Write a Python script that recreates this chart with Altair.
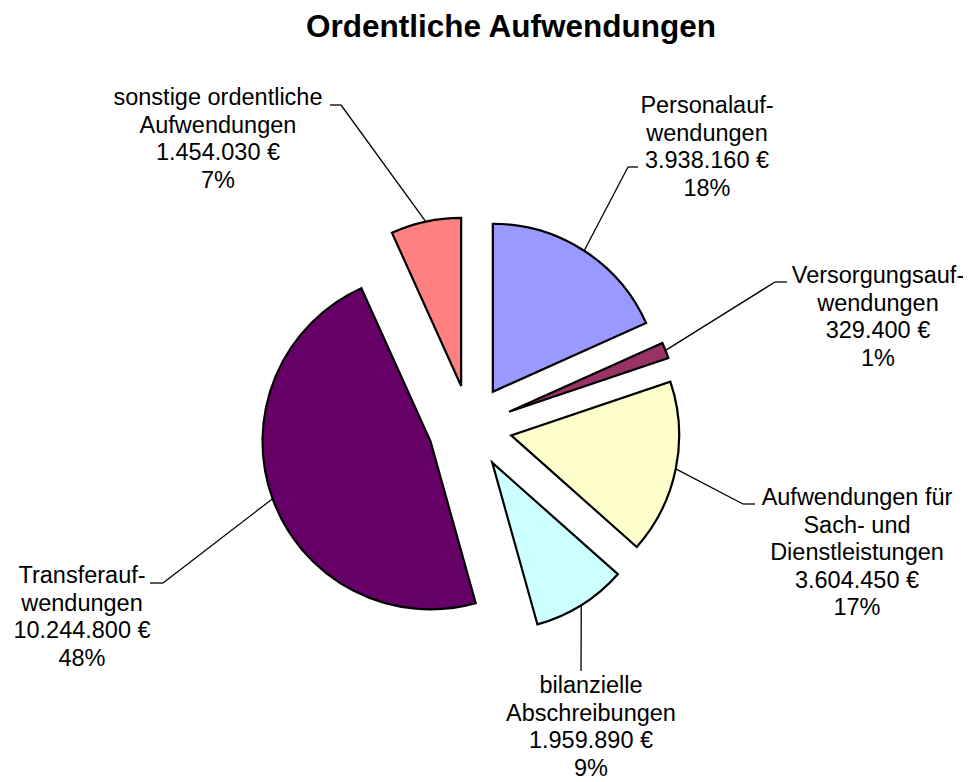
import altair as alt
import pandas as pd

# ---- data (clockwise from 12 o'clock) ----
names = [
    "Personalauf-\nwendungen",
    "Versorgungsauf-\nwendungen",
    "Aufwendungen für\nSach- und\nDienstleistungen",
    "bilanzielle\nAbschreibungen",
    "Transferauf-\nwendungen",
    "sonstige ordentliche\nAufwendungen",
]
values = [3938160, 329400, 3604450, 1959890, 10244800, 1454030]
percent_labels = [18, 1, 17, 9, 48, 7]
colors = ["#9999FF", "#993366", "#FFFFCC", "#CCFFFF", "#660066", "#FF8080"]
title_text = "Ordentliche Aufwendungen"

# ---- layout (pixels inside the plot area) ----
label_x = [699, 870, 849, 583, 74, 210]
label_y = [105, 275, 497, 685, 575, 97]
stub_x0 = [630, 779, 747, 573, 142, 322]
stub_x1 = [620, 767, 735, 573, 155, 333]
stub_y = [159, 274, 496, 663, 575, 97]
TITLE_X, TITLE_Y = 503, 29

CX, CY, R, D = 462, 419, 168, 42
FONT = "Liberation Sans"


def euro(v):
    return f"{v:,}".replace(",", ".") + " €"


df = pd.DataFrame({
    "order": list(range(len(names))),
    "name": names,
    "value": values,
    "label": [f"{n}\n{euro(v)}\n{p}%" for n, v, p in zip(names, values, percent_labels)],
    "lx": label_x,
    "ly": label_y,
    "sx0": stub_x0,
    "sx1": stub_x1,
    "sy": stub_y,
})

base = (
    alt.Chart(df)
    .transform_joinaggregate(total="sum(value)")
    .transform_window(cum="sum(value)", sort=[alt.SortField("order")], frame=[None, 0])
    .transform_calculate(t0="2*PI*(datum.cum-datum.value)/datum.total")
    .transform_calculate(t1="2*PI*datum.cum/datum.total")
    .transform_calculate(mid="(datum.t0+datum.t1)/2")
    .transform_calculate(cx=f"{CX}+{D}*sin(datum.mid)")
    .transform_calculate(cy=f"{CY}-{D}*cos(datum.mid)")
    .transform_calculate(ex=f"{CX}+{R + D}*sin(datum.mid)")
    .transform_calculate(ey=f"{CY}-{R + D}*cos(datum.mid)")
)

diag = base.mark_rule(color="black", strokeWidth=1.3).encode(
    x=alt.X("sx1:Q", scale=None, axis=None),
    x2="ex:Q",
    y=alt.Y("sy:Q", scale=None, axis=None),
    y2="ey:Q",
)
stub = base.mark_rule(color="black", strokeWidth=1.3).encode(
    x=alt.X("sx0:Q", scale=None, axis=None),
    x2="sx1:Q",
    y=alt.Y("sy:Q", scale=None, axis=None),
    y2="sy:Q",
)
arcs = base.mark_arc(stroke="black", strokeWidth=2.2, radius=R, strokeJoin="miter").encode(
    theta=alt.Theta("t0:Q", scale=None, stack=None),
    theta2="t1:Q",
    x=alt.X("cx:Q", scale=None, axis=None),
    y=alt.Y("cy:Q", scale=None, axis=None),
    color=alt.Color("name:N", scale=alt.Scale(domain=names, range=colors), legend=None),
)
text = base.mark_text(
    align="center", baseline="alphabetic", lineBreak="\n", lineHeight=27.5,
    fontSize=23.5, font=FONT, color="black",
).encode(
    x=alt.X("lx:Q", scale=None, axis=None),
    y=alt.Y("ly:Q", scale=None, axis=None),
    text="label:N",
)
title = alt.Chart(pd.DataFrame({"t": [title_text]})).mark_text(
    align="center", baseline="alphabetic", fontSize=31.5, font=FONT,
    fontWeight="bold", color="black",
).encode(
    x=alt.value(TITLE_X),
    y=alt.value(TITLE_Y),
    text="t:N",
)

chart = (
    alt.layer(diag, stub, arcs, text, title)
    .properties(
        width=955,
        height=774,
        autosize="none",
        padding={"left": 0, "top": 0, "right": 0, "bottom": 0},
    )
    .configure_view(stroke=None)
)

chart.save("out.html", embed_options={"renderer": "svg", "actions": False})
